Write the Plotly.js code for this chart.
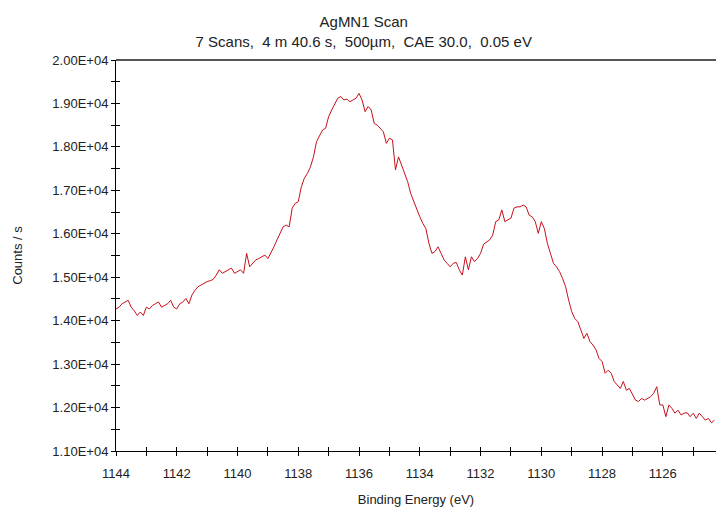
<!DOCTYPE html>
<html>
<head>
<meta charset="utf-8">
<script src="https://cdn.plot.ly/plotly-3.0.1.min.js"></script>
<style>html,body{margin:0;padding:0;background:#fff;}#chart{width:716px;height:510px;}</style>
</head>
<body>
<div id="chart"></div>
<script>
// Binding energy grid: start and step (0.1 eV sampling of the 0.05 eV scan)
const energyStart = 1144.0;
const energyStep = 0.1;
// Counts / s, from 1144.0 eV down to 1124.3 eV
const counts = [
  14270,14310,14390,14430,14470,14310,14230,14120,14200,14120,
  14310,14270,14350,14390,14430,14310,14350,14390,14470,14310,
  14270,14390,14430,14510,14390,14590,14700,14780,14820,14870,
  14900,14920,14950,15050,15170,15090,15130,15170,15210,15090,
  15130,
  15170,15090,15550,15240,15320,15400,15430,15470,15510,15430,
  15550,15700,15860,16010,16160,16200,16160,16590,16700,16740,
  17080,17280,17390,17540,17770,18120,18240,18390,18430,18700,
  18850,19000,19120,19160,19080,19100,19040,19080,19120,19230,
  19080,18810,18930,18850,18540,18500,18430,18350,18080,18200,
  18160,17470,17770,17580,17390,17200,16930,16740,16590,16390,
  16240,16120,15780,15550,15590,15700,15550,15400,15320,15240,
  15320,15340,15170,15050,15470,15170,15470,15360,15430,15550,
  15760,15820,15860,15970,16280,16320,16550,16280,16320,16360,
  16590,16620,16620,16660,16620,16430,16390,16280,16010,16280,
  16120,15780,15550,15320,15240,15130,14970,14780,14470,14210,
  14050,13980,13790,13590,13710,13520,13440,13330,13130,13060,
  12790,12860,12790,12600,12520,12440,12600,12400,12440,12290,
  12170,12140,12210,12170,12210,12250,12330,12480,12060,12060,
  11790,12060,11980,11870,11940,11830,11870,11880,11790,11870,
  11750,11870,11790,11710,11750,11650,11710
];
const energies = counts.map((_, i) => +(energyStart - i * energyStep).toFixed(2));

const xTickVals = [1144,1143,1142,1141,1140,1139,1138,1137,1136,1135,1134,1133,1132,1131,1130,1129,1128,1127,1126,1125];
const xTickText = ['1144','','1142','','1140','','1138','','1136','','1134','','1132','','1130','','1128','','1126',''];
const yTickVals = [11000,11500,12000,12500,13000,13500,14000,14500,15000,15500,16000,16500,17000,17500,18000,18500,19000,19500,20000];
const yTickText = ['1.10E+04','','1.20E+04','','1.30E+04','','1.40E+04','','1.50E+04','','1.60E+04','','1.70E+04','','1.80E+04','','1.90E+04','','2.00E+04'];

const xRange = [1144, 1124.25];
const yRange = [11000, 20000];
const font = {family: 'Liberation Sans, Arial, sans-serif', size: 13, color: '#222'};

const traces = [
  {x: energies, y: counts, type: 'scatter', mode: 'lines',
   line: {color: '#c8101a', width: 1}, hoverinfo: 'skip', showlegend: false},
  {x: energies, y: counts, type: 'scatter', mode: 'lines', xaxis: 'x2', yaxis: 'y2',
   line: {color: 'rgba(0,0,0,0)', width: 0}, hoverinfo: 'skip', showlegend: false}
];

const axisCommon = {showgrid: false, zeroline: false, tickcolor: '#000', tickwidth: 1, ticklen: 4, tickfont: font, fixedrange: true};

const layout = {
  width: 716, height: 510,
  margin: {l: 116, r: 0, t: 60, b: 59, pad: 0},
  paper_bgcolor: '#fff', plot_bgcolor: '#fff',
  font: font,
  title: {
    text: 'AgMN1 Scan<br>7 Scans,\u00a0 4 m 40.6 s,\u00a0 500µm,\u00a0 CAE 30.0,\u00a0 0.05 eV',
    x: 0.508, xref: 'container', xanchor: 'center', y: 0.947, yref: 'container', yanchor: 'middle',
    font: {family: 'Liberation Sans, Arial, sans-serif', size: 15, color: '#222'}
  },
  xaxis: Object.assign({}, axisCommon, {
    range: xRange, tickmode: 'array', tickvals: xTickVals, ticktext: xTickText,
    ticks: 'outside', showline: true, linecolor: '#000', linewidth: 1,
    ticklabelstandoff: 6,
    title: {text: 'Binding Energy (eV)', font: font, standoff: 15}
  }),
  yaxis: Object.assign({}, axisCommon, {
    range: yRange, tickmode: 'array', tickvals: yTickVals, ticktext: yTickText,
    ticks: 'outside', showline: true, linecolor: '#000', linewidth: 1,
    title: {text: 'Counts / s', font: font, standoff: 26}
  }),
  xaxis2: Object.assign({}, axisCommon, {
    range: xRange, overlaying: 'x', anchor: 'y2', tickmode: 'array', tickvals: xTickVals,
    ticks: 'inside', showticklabels: false, showline: false
  }),
  yaxis2: Object.assign({}, axisCommon, {
    range: yRange, overlaying: 'y', anchor: 'x2', tickmode: 'array', tickvals: yTickVals,
    ticks: 'inside', showticklabels: false, showline: false
  }),
  shapes: [
    {type: 'line', xref: 'paper', yref: 'paper', x0: 0, x1: 1, y0: 1, y1: 1,
     line: {color: '#555', width: 2}}
  ]
};

Plotly.newPlot('chart', traces, layout, {displayModeBar: false, staticPlot: true});
</script>
</body>
</html>
